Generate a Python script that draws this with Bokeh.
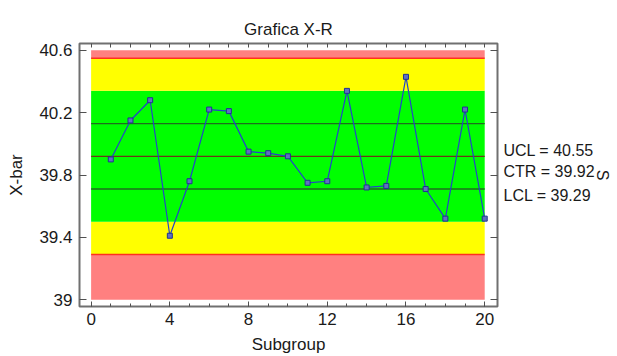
import math
from bokeh.plotting import figure
from bokeh.models import Range1d, FixedTicker, LinearAxis, ColumnDataSource
from bokeh.embed import file_html
from bokeh.resources import INLINE

# ---- data ----
subgroups = list(range(1, 21))
xbar = [39.90, 40.15, 40.28, 39.41, 39.76, 40.22, 40.21, 39.95, 39.94, 39.92,
        39.75, 39.76, 40.34, 39.72, 39.73, 40.43, 39.71, 39.52, 40.22, 39.52]

limit_names = ["UCL", "CTR", "LCL"]
limit_values = [40.55, 39.92, 39.29]

band_bottom = [39.00, 39.29, 39.50, 40.34, 40.55]
band_top = [39.29, 39.50, 40.34, 40.55, 40.60]
sigma_lines = [39.71, 40.13]

xticks = [0, 4, 8, 12, 16, 20]
xtick_labels = ["0", "4", "8", "12", "16", "20"]
yticks = [39.0, 39.4, 39.8, 40.2, 40.6]
ytick_labels = ["39", "39.4", "39.8", "40.2", "40.6"]

# ---- styles ----
band_colors = ["#FF8080", "#FFFF00", "#00FF00", "#FFFF00", "#FF8080"]
FONT = "Liberation Sans"
TXT = "#1a1a1a"
# vertical placement (data units) of the stacked limit texts on the right
text_pos = [39.960, 39.820, 39.668]

x0, x1 = xticks[0], xticks[-1]

p = figure(width=617, height=356,
           x_range=Range1d(-0.59, 20.65), y_range=Range1d(38.956, 40.644),
           output_backend="svg", toolbar_location=None,
           min_border_left=79, min_border_right=120,
           min_border_top=43, min_border_bottom=47)
p.grid.visible = False
p.outline_line_color = "#707070"
p.outline_line_width = 2
p.background_fill_color = "white"
p.border_fill_color = "white"

p.title.text = "Grafica X-R"
p.title.align = "center"
p.title.text_font = FONT
p.title.text_font_size = "17px"
p.title.text_font_style = "normal"
p.title.text_color = TXT

# bands
p.quad(left=[x0] * len(band_bottom), right=[x1] * len(band_bottom),
       bottom=band_bottom, top=band_top, fill_color=band_colors, line_color=None)

# limit lines
ucl, ctr, lcl = limit_values
p.segment(x0=[x0, x0], x1=[x1, x1], y0=[ucl, lcl], y1=[ucl, lcl],
          line_color="#FF3020", line_width=1.5)
p.segment(x0=[x0] * len(sigma_lines), x1=[x1] * len(sigma_lines),
          y0=sigma_lines, y1=sigma_lines, line_color="#1E6E1E", line_width=1.3)
p.segment(x0=[x0], x1=[x1], y0=[ctr], y1=[ctr], line_color="#6A3A18", line_width=1.3)

# data
src = ColumnDataSource(dict(x=subgroups, y=xbar))
p.line("x", "y", source=src, line_color="#2444C8", line_width=1.2)
p.scatter("x", "y", source=src, marker="square", size=5,
          line_color="#22338F", fill_color="#6070C0", line_width=1)


def style_axis(ax):
    ax.axis_line_color = None
    ax.major_tick_line_color = "#505050"
    ax.minor_tick_line_color = "#505050"
    ax.major_tick_out = 0
    ax.minor_tick_out = 0
    ax.major_label_text_font = FONT
    ax.major_label_text_font_size = "17px"
    ax.major_label_text_color = TXT
    ax.axis_label_text_font = FONT
    ax.axis_label_text_font_size = "17px"
    ax.axis_label_text_font_style = "normal"
    ax.axis_label_text_color = TXT


# bottom axis
bx = p.xaxis[0]
bx.ticker = FixedTicker(ticks=xticks, minor_ticks=list(range(x0, x1 + 1)))
bx.major_label_overrides = dict(zip(xticks, xtick_labels))
style_axis(bx)
bx.major_tick_in = 5
bx.minor_tick_in = 3
bx.major_label_standoff = 6
bx.axis_label = "Subgroup"
bx.axis_label_standoff = 7

# left axis
ly = p.yaxis[0]
ly.ticker = FixedTicker(ticks=yticks, minor_ticks=[])
ly.major_label_overrides = dict(zip(yticks, ytick_labels))
style_axis(ly)
ly.major_tick_in = 7
ly.minor_tick_in = 0
ly.major_label_standoff = 7
ly.axis_label = "X-bar"
ly.axis_label_standoff = 10

# top axis: inward ticks only
tx = LinearAxis(ticker=FixedTicker(ticks=[], minor_ticks=list(range(x0, x1 + 1))))
style_axis(tx)
tx.minor_tick_in = 4
tx.major_label_standoff = 0
p.add_layout(tx, "above")

# right axis: inward ticks (as minor ticks) + control-limit texts + title
ra = LinearAxis(ticker=FixedTicker(ticks=text_pos, minor_ticks=yticks))
style_axis(ra)
ra.major_tick_in = 0
ra.minor_tick_in = 7
ra.major_label_standoff = 6
ra.major_label_text_font_size = "16px"
ra.major_label_overrides = {pos: f"{n} = {v:.2f}"
                            for pos, n, v in zip(text_pos, limit_names, limit_values)}
ra.axis_label = "S"
ra.axis_label_standoff = -4
ra.axis_label_text_font_size = "16px"
p.add_layout(ra, "right")

open("out.html", "w").write(file_html(p, INLINE))
